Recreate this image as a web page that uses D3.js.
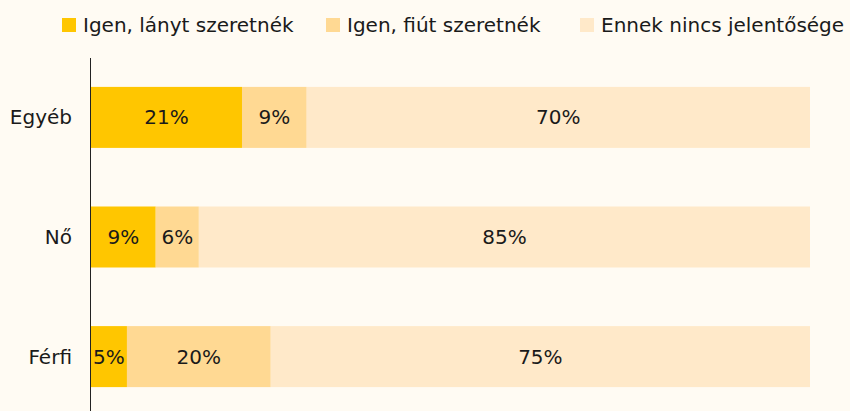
<!DOCTYPE html>
<html>
<head>
<meta charset="utf-8">
<script src="https://cdn.jsdelivr.net/npm/d3@7"></script>
<style>
  body { margin: 0; background: #fffbf3; }
  svg { display: block; font-family: "DejaVu Sans", sans-serif; }
</style>
</head>
<body>
<svg id="chart" width="850" height="411"></svg>
<script>
// data
var categories = ["Egyéb", "Nő", "Férfi"];
var seriesNames = ["Igen, lányt szeretnék", "Igen, fiút szeretnék", "Ennek nincs jelentősége"];
var girl = [21, 9, 5];
var boy = [9, 6, 20];
var none = [70, 85, 75];
var colors = ["#ffc600", "#ffd993", "#ffe9c9"];

var width = 850, height = 411;
var margin = {top: 57, right: 40, bottom: 0, left: 91};
var w = width - margin.left - margin.right;

var svg = d3.select("#chart");
svg.append("rect").attr("width", width).attr("height", height).attr("fill", "#fffbf3");

var rows = categories.map(function(c, i) {
    return {cat: c, vals: [girl[i], boy[i], none[i]]};
});

var x = d3.scaleLinear().domain([0, 100]).range([margin.left, margin.left + w]);
var y = d3.scaleBand().domain(categories).range([margin.top, 417]).paddingInner(0.49).paddingOuter(0.25);

var row = svg.selectAll("g.row").data(rows).enter().append("g").attr("class", "row");

row.each(function(d) {
    var g = d3.select(this);
    var acc = 0;
    d.vals.forEach(function(v, j) {
        var x0 = x(acc), x1 = x(acc + v);
        g.append("rect")
            .attr("x", x0)
            .attr("y", y(d.cat))
            .attr("width", x1 - x0)
            .attr("height", y.bandwidth())
            .attr("fill", colors[j]);
        g.append("text")
            .attr("x", (x0 + x1) / 2)
            .attr("y", y(d.cat) + y.bandwidth() / 2)
            .attr("dy", "0.35em")
            .attr("text-anchor", "middle")
            .style("font-size", "20px")
            .style("fill", "#1a1a1a")
            .text(v + "%");
        acc += v;
    });
});

// category labels
svg.selectAll("text.cat").data(categories).enter().append("text")
    .attr("class", "cat")
    .attr("x", 72)
    .attr("y", function(d) { return y(d) + y.bandwidth() / 2; })
    .attr("dy", "0.35em")
    .attr("text-anchor", "end")
    .style("font-size", "20px")
    .style("fill", "#1a1a1a")
    .text(function(d) { return d; });

// axis line
svg.append("line")
    .attr("x1", 90.5).attr("x2", 90.5)
    .attr("y1", 58).attr("y2", height)
    .attr("stroke", "#222").attr("stroke-width", 1);

// legend
var legendX = [62, 326, 580];
var legend = svg.selectAll("g.legend").data(seriesNames).enter().append("g")
    .attr("class", "legend")
    .attr("transform", function(d, i) { return "translate(" + legendX[i] + ",18)"; });
legend.append("rect").attr("width", 14).attr("height", 14)
    .attr("fill", function(d, i) { return colors[i]; });
legend.append("text")
    .attr("x", 21).attr("y", 7).attr("dy", "0.35em")
    .style("font-size", "20px")
    .style("fill", "#1a1a1a")
    .text(function(d) { return d; });
</script>
</body>
</html>
